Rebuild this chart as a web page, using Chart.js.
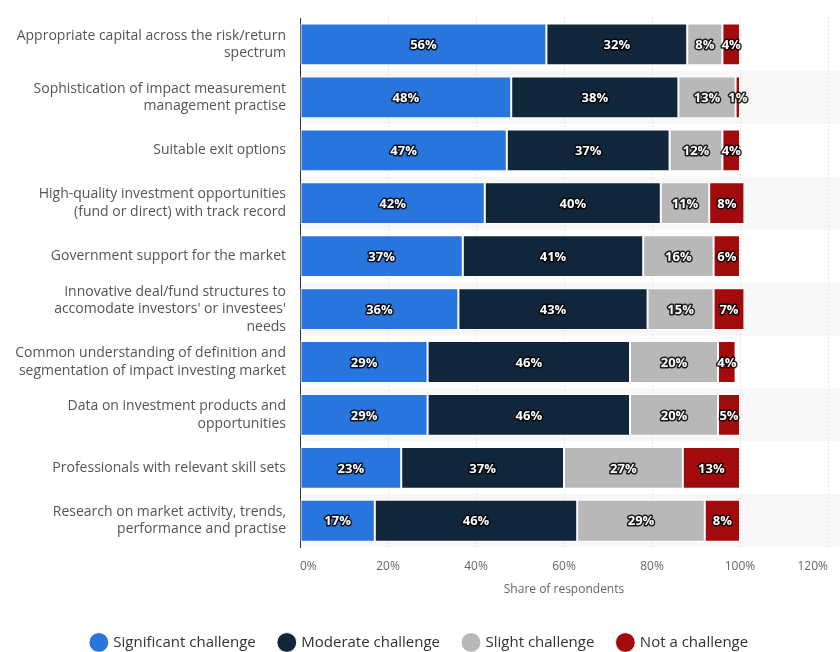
<!DOCTYPE html>
<html>
<head>
<meta charset="utf-8">
<script src="https://cdn.jsdelivr.net/npm/chart.js@4"></script>
<style>
	html, body { margin: 0; padding: 0; background: #fff; }
	#wrap { width: 840px; height: 652px; }
</style>
</head>
<body>
<div id="wrap"><canvas id="chart"></canvas></div>
<script>
var categories = [
	['Appropriate capital across the risk/return', 'spectrum'],
	['Sophistication of impact measurement', 'management practise'],
	'Suitable exit options',
	['High-quality investment opportunities', '(fund or direct) with track record'],
	'Government support for the market',
	['Innovative deal/fund structures to', 'accomodate investors\' or investees\'', 'needs'],
	['Common understanding of definition and', 'segmentation of impact investing market'],
	['Data on investment products and', 'opportunities'],
	'Professionals with relevant skill sets',
	['Research on market activity, trends,', 'performance and practise']
];

var significant = [56, 48, 47, 42, 37, 36, 29, 29, 23, 17];
var moderate = [32, 38, 37, 40, 41, 43, 46, 46, 37, 46];
var slight = [8, 13, 12, 11, 16, 15, 20, 20, 27, 29];
var notChallenge = [4, 1, 4, 8, 6, 7, 4, 5, 13, 8];

var seriesNames = ['Significant challenge', 'Moderate challenge', 'Slight challenge', 'Not a challenge'];
var seriesColors = ['#2876dd', '#12263b', '#b8b8b8', '#a20b0b'];

var fontFamily = '"Open Sans", "Liberation Sans", sans-serif';

// alternating row bands behind the bars
var rowBands = {
	id: 'rowBands',
	beforeDraw: function (chart) {
		var ctx = chart.ctx;
		var y = chart.scales.y;
		var area = chart.chartArea;
		ctx.save();
		ctx.fillStyle = '#f7f7f7';
		for (var i = 1; i < categories.length; i += 2) {
			var top = y.getPixelForValue(i - 0.5);
			var bottom = y.getPixelForValue(i + 0.5);
			ctx.fillRect(area.left, top, chart.width - area.left, bottom - top);
		}
		ctx.restore();
	}
};

// value labels in the segments
var barLabels = {
	id: 'barLabels',
	afterDatasetsDraw: function (chart) {
		var ctx = chart.ctx;
		ctx.save();
		ctx.font = 'bold 13px ' + fontFamily;
		ctx.textAlign = 'center';
		ctx.textBaseline = 'middle';
		ctx.lineJoin = 'round';
		chart.data.datasets.forEach(function (ds, di) {
			var meta = chart.getDatasetMeta(di);
			meta.data.forEach(function (bar, i) {
				var v = ds.data[i];
				var cx = (bar.x + bar.base) / 2;
				var txt = v + '%';
				ctx.lineWidth = 3;
				ctx.strokeStyle = 'rgba(0,0,0,0.85)';
				ctx.strokeText(txt, cx, bar.y + 1);
				ctx.fillStyle = '#fff';
				ctx.fillText(txt, cx, bar.y + 1);
			});
		});
		ctx.restore();
	}
};

var datasets = [significant, moderate, slight, notChallenge].map(function (values, i) {
	return {
		label: seriesNames[i],
		data: values,
		backgroundColor: seriesColors[i],
		borderColor: '#ffffff',
		borderWidth: 1,
		borderSkipped: false,
		categoryPercentage: 1,
		barPercentage: 0.79
	};
});

var ctx = document.getElementById('chart').getContext('2d');
var chart = new Chart(ctx, {
	type: 'bar',
	data: {
		labels: categories,
		datasets: datasets
	},
	options: {
		indexAxis: 'y',
		responsive: true,
		maintainAspectRatio: false,
		animation: false,
		layout: { padding: { top: 18, left: 0, right: 0, bottom: -8 } },
		scales: {
			x: {
				stacked: true,
				min: 0,
				max: 120,
				ticks: {
					stepSize: 20,
					align: 'inner',
					padding: 12,
					color: '#666',
					font: { family: fontFamily, size: 12 },
					callback: function (v) { return v + '%'; }
				},
				grid: { color: '#cfcfcf', drawTicks: false, lineWidth: 1 },
				border: { display: false, dash: [1, 3] },
				title: {
					display: true,
					text: 'Share of respondents',
					color: '#666',
					font: { family: fontFamily, size: 12 },
					padding: { top: -3, bottom: 14 }
				}
			},
			y: {
				stacked: true,
				grid: { display: false, drawTicks: false },
				border: { display: true, color: '#333', width: 1 },
				ticks: {
					autoSkip: false,
					color: '#555',
					padding: 14,
					font: { family: fontFamily, size: 14, lineHeight: 1.25 }
				},
				afterFit: function (scale) {
					scale.width = 300;
					scale.paddingTop = 0;
					scale.paddingBottom = 0;
				}
			}
		},
		plugins: {
			legend: {
				position: 'bottom',
				labels: {
					usePointStyle: true,
					pointStyle: 'circle',
					boxWidth: 14,
					boxHeight: 14,
					padding: 24,
					color: '#333',
					font: { family: fontFamily, size: 15 }
				}
			},
			tooltip: { enabled: false }
		}
	},
	plugins: [rowBands, barLabels]
});
</script>
</body>
</html>
